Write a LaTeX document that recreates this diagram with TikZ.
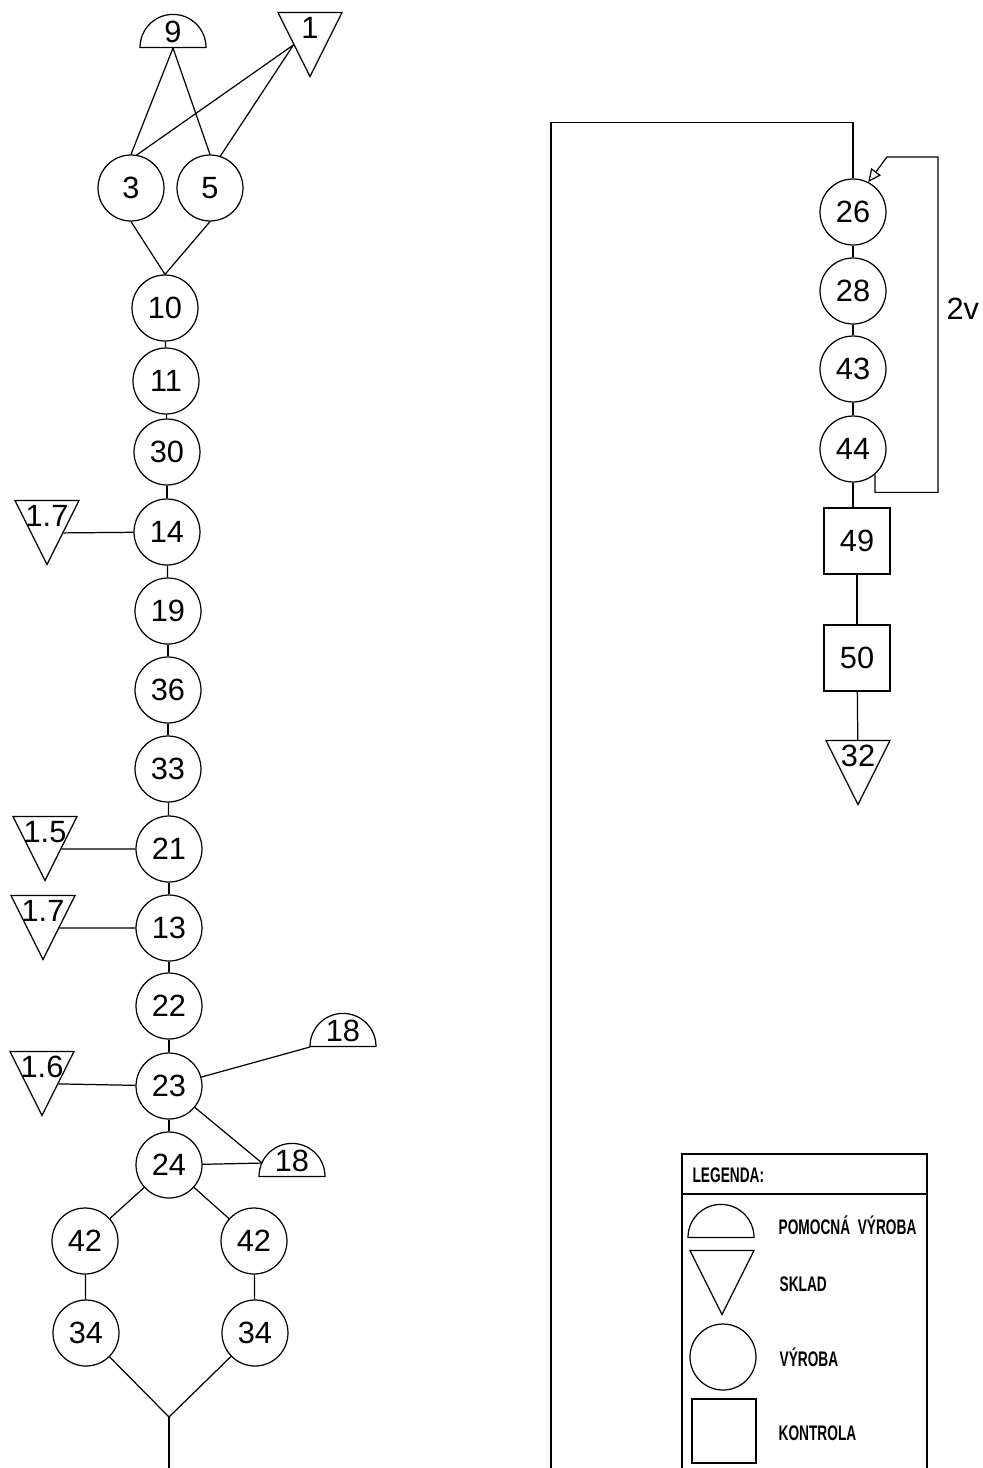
\documentclass[tikz,border=0pt]{standalone}
\usepackage{fontspec}
\setmainfont{Liberation Sans}
\usetikzlibrary{shapes.geometric,arrows.meta}
\newcommand{\legtxt}[1]{\scalebox{0.65}[1]{\bfseries #1}}
\begin{document}
\begin{tikzpicture}[x=0.02cm, y=-0.02cm, line width=0.7pt,
    num/.style={font=\fontsize{17.5}{20}\selectfont, inner sep=0pt},
    vyroba/.style={circle, draw, minimum size=1.32cm, inner sep=0pt, num},
    kontrola/.style={rectangle, draw, minimum size=1.32cm, inner sep=0pt, num},
    sklad/.style={isosceles triangle, isosceles triangle stretches, shape border rotate=270,
        draw, minimum width=1.28cm, minimum height=1.28cm, inner sep=0pt, anchor=apex},
    pomocna/.style={semicircle, draw, minimum width=1.32cm, minimum height=0.66cm,
        inner sep=0pt, anchor=chord center},
    tlabel/.style={label={[num, anchor=north, inner sep=0.1cm]90:#1}},
    plabel/.style={label={[num, anchor=north, inner sep=0.14cm]90:#1}},
    leg/.style={font=\fontsize{12}{14}\selectfont, anchor=west, inner sep=0pt}]
    \useasboundingbox (0,0) rectangle (983,1468);

    % vstupy nahore
    \node[pomocna, plabel=9] (p9) at (173,48) {};
    \node[sklad, tlabel=1] (s1) at (310,78) {};
    \node[vyroba] (n3) at (131,188) {3};
    \node[vyroba] (n5) at (210,188) {5};
    \draw (p9.chord center) -- (n3.north);
    \draw (p9.chord center) -- (n5.north);
    \draw (s1.right side) -- (n3.80);
    \draw (s1.right side) -- (n5.72);

    % levy sloupec
    \node[vyroba] (n10) at (165,308) {10};
    \node[vyroba] (n11) at (166,381) {11};
    \node[vyroba] (n30) at (167,452) {30};
    \node[vyroba] (n14) at (167,532) {14};
    \node[vyroba] (n19) at (168,611) {19};
    \node[vyroba] (n36) at (168,690) {36};
    \node[vyroba] (n33) at (168,769) {33};
    \node[vyroba] (n21) at (169,849) {21};
    \node[vyroba] (n13) at (169,928) {13};
    \node[vyroba] (n22) at (169,1006) {22};
    \node[vyroba] (n23) at (169,1086) {23};
    \node[vyroba] (n24) at (169,1165) {24};
    \draw (n3.south) -- (n10.north);
    \draw (n5.south) -- (n10.north);
    \draw (n10) -- (n11);
    \draw (n11) -- (n30);
    \draw (n30) -- (n14);
    \draw (n14) -- (n19);
    \draw (n19) -- (n36);
    \draw (n36) -- (n33);
    \draw (n33) -- (n21);
    \draw (n21) -- (n13);
    \draw (n13) -- (n22);
    \draw (n22) -- (n23);
    \draw (n23) -- (n24);

    % sklady a pomocna vyroba vlevo
    \node[sklad, tlabel=1.7] (s14) at (47,566) {};
    \node[sklad, tlabel=1.5] (s21) at (45,882) {};
    \node[sklad, tlabel=1.7] (s13) at (43,961) {};
    \node[sklad, tlabel=1.6] (s23) at (42,1117) {};
    \node[pomocna, plabel=18] (p18a) at (343,1047) {};
    \node[pomocna, plabel=18] (p18b) at (292,1177) {};
    \draw (n14) -- (s14.left side);
    \draw (n21) -- (s21.left side);
    \draw (n13) -- (s13.left side);
    \draw (n23) -- (s23.left side);
    \draw (n23) -- ([shift={(180:0.66cm)}]p18a.chord center);
    \draw (n23) -- ([shift={(155:0.66cm)}]p18b.chord center);
    \draw (n24) -- ([shift={(155:0.66cm)}]p18b.chord center);

    % rozdeleni dole
    \node[vyroba] (n42a) at (85,1241) {42};
    \node[vyroba] (n42b) at (254,1241) {42};
    \node[vyroba] (n34a) at (86,1333) {34};
    \node[vyroba] (n34b) at (255,1333) {34};
    \coordinate (spoj) at (169,1417);
    \coordinate (konecL) at (169,1470);
    \draw (n24) -- (n42a);
    \draw (n24) -- (n42b);
    \draw (n42a) -- (n34a);
    \draw (n42b) -- (n34b);
    \draw (n34a) -- (spoj) -- (n34b);
    \draw (spoj) -- (konecL);

    % pravy sloupec
    \node[vyroba] (n26) at (853,212) {26};
    \node[vyroba] (n28) at (853,291) {28};
    \node[vyroba] (n43) at (853,369) {43};
    \node[vyroba] (n44) at (853,449) {44};
    \node[kontrola] (k49) at (857,541) {49};
    \node[kontrola] (k50) at (857,658) {50};
    \node[sklad, tlabel=32] (s32) at (858,806) {};
    \coordinate (konecR) at (551,1470);
    \draw (n26.north) -- ++(0,-56) -| (konecR);
    \draw (n26) -- (n28);
    \draw (n28) -- (n43);
    \draw (n43) -- (n44);
    \draw (n44.south) -- (n44.south |- k49.north);
    \draw (k49) -- (k50);
    \draw (k50) -- (s32);
    \draw[-{Triangle[open, length=0.26cm, width=0.24cm]}] (n44.-49) -- ++(0,18) -| (938,157) -- (887,157) -- (n26.63);
    \node[num, anchor=west] (opak) at (946,309) {2v};

    % legenda
    \draw (682,1470) -- (682,1154) -- (927,1154) -- (927,1470);
    \draw (682,1194) -- (927,1194);
    \node[leg] (lnadpis) at (692,1175) {\legtxt{LEGENDA:}};
    \node[pomocna] (lpom) at (721,1238) {};
    \node[sklad] (lskl) at (722,1316) {};
    \node[vyroba] (lvyr) at (723,1357) {};
    \node[kontrola, minimum size=1.28cm] (lkon) at (724,1431) {};
    \node[leg] (tpom) at (778,1225) {\legtxt{POMOCNÁ\ \ VÝROBA}};
    \node[leg] (tskl) at (779,1284) {\legtxt{SKLAD}};
    \node[leg] (tvyr) at (779,1357) {\legtxt{VÝROBA}};
    \node[leg] (tkon) at (778,1433) {\legtxt{KONTROLA}};
\end{tikzpicture}
\end{document}
